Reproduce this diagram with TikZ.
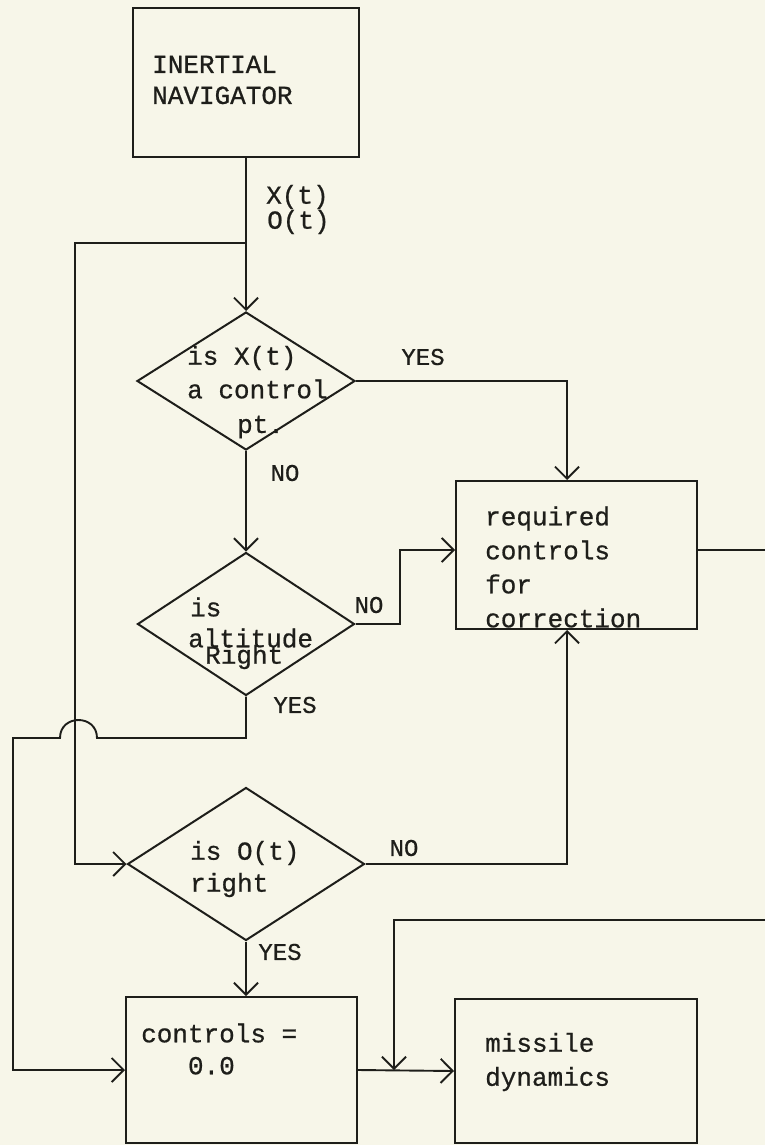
\documentclass[tikz,border=0pt]{standalone}
\usepackage{fontspec}
\newfontfamily\tw[FakeBold=0.7]{Liberation Mono}
\usetikzlibrary{arrows.meta,shapes.geometric}
\definecolor{paper}{RGB}{247,246,233}
\definecolor{ink}{RGB}{30,30,26}
\begin{document}
\begin{tikzpicture}[x=1pt,y=-1pt,
  >={Straight Barb[length=12pt,width=24pt]},
  box/.style={draw=ink, rectangle, line width=2pt, inner sep=0pt},
  dia/.style={draw=ink, diamond, inner sep=0pt, line width=2pt},
  txt/.style={font=\tw\fontsize{26}{31}\selectfont, text=ink, inner sep=0pt, anchor=west, align=left},
  lbl/.style={font=\tw\fontsize{24}{28}\selectfont, text=ink, inner sep=0pt},
  conn/.style={draw=ink, line width=1.9pt},
]
\fill[paper] (0,0) rectangle (765,1145);
\useasboundingbox (0,0) rectangle (765,1145);

% boxes
\node[box, minimum width=226pt, minimum height=149pt] (nav) at (246,82.5) {};
\node[box, minimum width=241pt, minimum height=148pt] (req) at (576.5,555) {};
\node[box, minimum width=231pt, minimum height=146pt] (ctrl) at (241.5,1070) {};
\node[box, minimum width=242pt, minimum height=144pt] (mis) at (576,1071) {};

% diamonds
\node[dia, minimum width=218pt, minimum height=138pt] (d1) at (246,381) {};
\node[dia, minimum width=217pt, minimum height=143pt] (d2) at (246,624) {};
\node[dia, minimum width=237pt, minimum height=153pt] (d3) at (246,864) {};

% box texts
\node[txt] (navt) at (152,80) {INERTIAL\\NAVIGATOR};
\node[txt, font=\tw\fontsize{26}{34}\selectfont] (reqt) at (485,567) {required\\controls\\for\\correction};
\node[txt, font=\tw\fontsize{26}{32}\selectfont] (ctrlt) at (141,1049) {controls =\\~~~0.0};
\node[txt, font=\tw\fontsize{26}{34}\selectfont] (mist) at (485,1062) {missile\\dynamics};

% diamond texts
\node[txt] (t1a) at (187,358) {is X(t)};
\node[txt] (t1b) at (187,389) {a control};
\node[txt] (t1c) at (237,427) {pt.};
\node[txt] (t2a) at (190,607) {is};
\node[txt] (t2b) at (188,638) {altitude};
\node[txt] (t2c) at (205,657) {Right};
\node[txt] (t3a) at (190,853) {is O(t)};
\node[txt] (t3b) at (190,885) {right};

% signal labels
\node[txt] (lx) at (266,197) {X(t)};
\node[txt] (lo) at (267,222) {O(t)};
\node[lbl] (y1) at (423,357) {YES};
\node[lbl] (n1) at (285,473) {NO};
\node[lbl] (n2) at (369,605) {NO};
\node[lbl] (y2) at (295,705) {YES};
\node[lbl] (n3) at (404,848) {NO};
\node[lbl] (y3) at (280,952) {YES};

% free ends and junctions
\coordinate (j1) at (246,243);
\coordinate (out) at (765,550);
\coordinate (fb) at (765,920);
\coordinate (jm) at (394,1070);

% connectors
\draw[conn,->] (nav.south) -- (d1.north);
\draw[conn,->] (j1) -- (75,243) |- (d3.west);
\draw[conn,->] (d1.east) -| ([xshift=-9.5pt]req.north);
\draw[conn,->] (d1.south) -- (d2.north);
\draw[conn,->] (d2.east) -- (400,624) |- ([yshift=5pt]req.west);
\draw[conn,->] (d2.south) -- (246,738) -- (97,738)
   .. controls (97,714) and (60,714) .. (60,738) -- (13,738) |- (ctrl.west);
\draw[conn,->] (d3.east) -| ([xshift=-9.5pt]req.south);
\draw[conn,->] (d3.south) -- (d3.south |- ctrl.north);
\draw[conn,->] (ctrl.east) -- (mis.west);
\draw[conn] ([yshift=5pt]req.east) -- (out);
\draw[conn,->] (fb) -| (jm);
\end{tikzpicture}
\end{document}
